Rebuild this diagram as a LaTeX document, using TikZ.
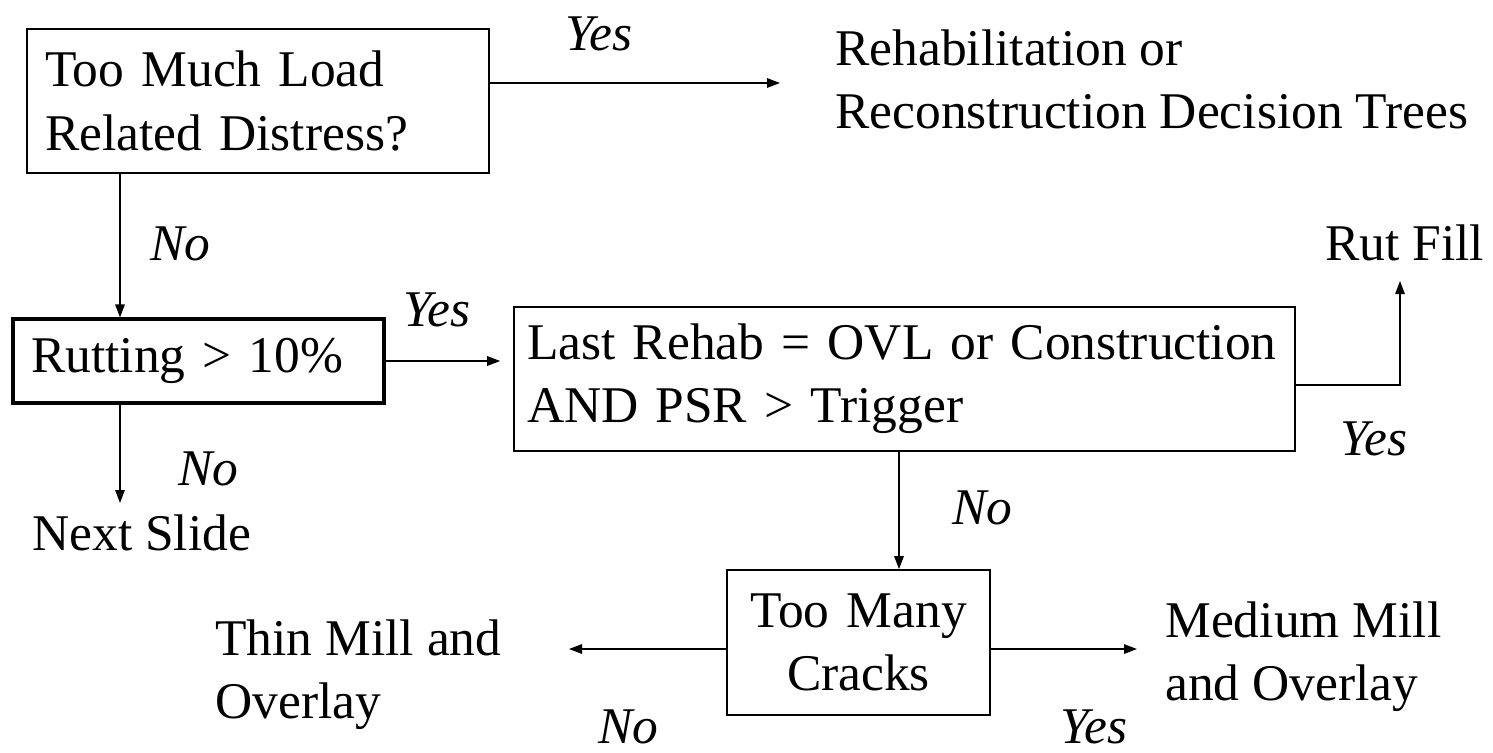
\documentclass[tikz,border=0pt]{standalone}
\usepackage{fontspec}
\setmainfont{Liberation Serif}
\usetikzlibrary{arrows.meta}

\begin{document}
\begin{tikzpicture}[x=0.02cm, y=-0.02cm,
  every node/.style={font=\fontsize{29.3}{36}\selectfont, inner sep=0pt},
  box/.style={draw, line width=1pt, inner xsep=0.36cm, align=left},
  thickbox/.style={box, line width=1.8pt},
  lbl/.style={font=\fontsize{29.3}{36}\selectfont\itshape, anchor=base west},
  txt/.style={anchor=north west, align=left},
  arr/.style={-{Triangle[length=0.26cm, width=0.19cm]}, line width=0.8pt}]

\useasboundingbox (0,0) rectangle (1493,752);

% =============================================
% CAJAS DE DECISION
% =============================================
\node[box, minimum width=9.24cm, minimum height=2.88cm, text width=8.52cm] (load) at (258,101) {Too Much Load\\Related Distress?};
\node[thickbox, minimum width=7.42cm, minimum height=1.68cm, text width=6.7cm] (rut) at (198.5,361) {Rutting > 10\%};
\node[box, inner xsep=0.26cm, minimum width=15.62cm, minimum height=2.88cm, text width=15.1cm] (rehab) at (904.5,379) {Last Rehab = OVL or Construction\\AND PSR > Trigger};
\node[box, minimum width=5.26cm, minimum height=2.9cm, text width=4.54cm, align=center] (cracks) at (858.5,642.5) {Too Many\\Cracks};

% =============================================
% RESULTADOS
% =============================================
\node[txt] (trees) at (835,29) {Rehabilitation or\\Reconstruction Decision Trees};
\node[anchor=base west] (rutfill) at (1325,260) {Rut Fill};
\node[anchor=base west] (next) at (32,550) {Next Slide};
\node[txt] (thin) at (215,619) {Thin Mill and\\Overlay};
\node[txt] (medium) at (1165,601) {Medium Mill\\and Overlay};

% puntos libres de las flechas
\coordinate (treesTip) at (780,83);
\coordinate (rutTip) at (1400,281);
\coordinate (nextTip) at (120,503);
\coordinate (thinTip) at (569,649);
\coordinate (medTip) at (1137,649);
\coordinate (xA) at (120,0);
\coordinate (xB) at (899,0);
\coordinate (yR) at (0,385);

% =============================================
% FLECHAS
% =============================================
\draw[arr] (load.east |- treesTip) -- (treesTip);
\draw[arr] (load.south -| xA) -- (rut.north -| xA);
\draw[arr, shorten >=0.26cm] (rut.east) -- (rut.east -| rehab.west);
\draw[arr] (rut.south -| xA) -- (nextTip);
\draw[arr] (rehab.east |- yR) -| (rutTip);
\draw[arr] (rehab.south -| xB) -- (cracks.north -| xB);
\draw[arr] (cracks.west |- thinTip) -- (thinTip);
\draw[arr] (cracks.east |- medTip) -- (medTip);

% Etiquetas Yes / No
\node[lbl] (yesA) at (565,50) {Yes};
\node[lbl] (noA) at (150,260) {No};
\node[lbl] (yesB) at (403,326) {Yes};
\node[lbl] (noB) at (178,485) {No};
\node[lbl] (yesC) at (1340,455) {Yes};
\node[lbl] (noC) at (952,524) {No};
\node[lbl] (noD) at (598,743) {No};
\node[lbl] (yesD) at (1060,743) {Yes};

\end{tikzpicture}
\end{document}
